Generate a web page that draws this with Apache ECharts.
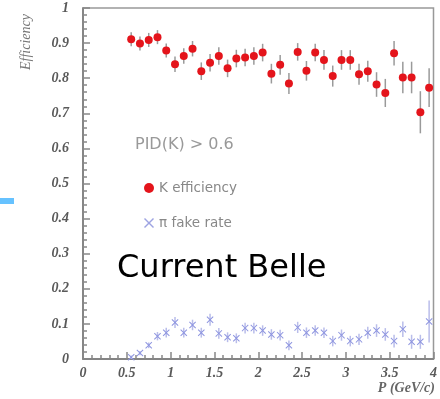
<!DOCTYPE html>
<html>
<head>
<meta charset="utf-8">
<script src="https://cdn.jsdelivr.net/npm/echarts@6/dist/echarts.min.js"></script>
<style>
  html, body { margin: 0; padding: 0; background: #fff; }
  #chart { width: 440px; height: 399px; }
</style>
</head>
<body>
<div id="chart"></div>
<script>
// momentum bin centres (GeV/c)
const pBins = [0.55, 0.65, 0.75, 0.85, 0.95, 1.05, 1.15, 1.25, 1.35, 1.45, 1.55, 1.65,
  1.75, 1.85, 1.95, 2.05, 2.15, 2.25, 2.35, 2.45, 2.55, 2.65, 2.75, 2.85, 2.95, 3.05,
  3.15, 3.25, 3.35, 3.45, 3.55, 3.65, 3.75, 3.85, 3.95];

const kEff = [0.911, 0.899, 0.909, 0.917, 0.879, 0.840, 0.863, 0.884, 0.820, 0.844, 0.863, 0.828,
  0.856, 0.859, 0.863, 0.873, 0.813, 0.838, 0.785, 0.875, 0.821, 0.873, 0.852, 0.806, 0.852, 0.852,
  0.811, 0.820, 0.782, 0.758, 0.871, 0.802, 0.802, 0.703, 0.773];
const kErr = [0.02, 0.02, 0.02, 0.02, 0.02, 0.022, 0.022, 0.022, 0.025, 0.025, 0.025, 0.025,
  0.025, 0.025, 0.025, 0.025, 0.028, 0.028, 0.03, 0.025, 0.028, 0.025, 0.028, 0.03, 0.028, 0.028,
  0.03, 0.03, 0.035, 0.04, 0.035, 0.045, 0.045, 0.06, 0.055];

const piFake = [0.005, 0.017, 0.039, 0.065, 0.075, 0.104, 0.075, 0.097, 0.075, 0.112, 0.073, 0.062,
  0.059, 0.088, 0.088, 0.081, 0.070, 0.068, 0.039, 0.090, 0.075, 0.081, 0.075, 0.051, 0.068, 0.051,
  0.056, 0.075, 0.081, 0.070, 0.051, 0.085, 0.049, 0.049, 0.107];
const piErr = [0.005, 0.006, 0.008, 0.012, 0.014, 0.016, 0.014, 0.015, 0.014, 0.017, 0.015, 0.014,
  0.014, 0.015, 0.015, 0.015, 0.015, 0.015, 0.014, 0.016, 0.015, 0.015, 0.015, 0.015, 0.016, 0.015,
  0.016, 0.017, 0.018, 0.018, 0.018, 0.022, 0.02, 0.02, 0.06];

const xTicks = ['0', '0.5', '1', '1.5', '2', '2.5', '3', '3.5', '4'];

const crossPath = 'path://M0,1L1,0L5,4L9,0L10,1L6,5L10,9L9,10L5,6L1,10L0,9L4,5Z';

let chart = echarts.init(document.getElementById('chart'));

function errorBar(color) {
  return function (params, api) {
    let x = api.value(0), y = api.value(1), e = api.value(2);
    let lo = api.coord([x, y - e]);
    let hi = api.coord([x, y + e]);
    return {
      type: 'line',
      shape: { x1: lo[0], y1: lo[1], x2: hi[0], y2: hi[1] },
      style: { stroke: color, lineWidth: 1.5 }
    };
  };
}

let tickFont = {
  fontFamily: 'Liberation Serif',
  fontStyle: 'italic',
  fontWeight: 'bold',
  fontSize: 14,
  color: '#5a5a5a'
};

// 1px grey ticks get lost in antialiasing, so a bit thicker
let tickLine = { color: '#888', width: 1.5 };

let option = {
  animation: false,
  grid: { left: 83, right: 4, top: 8, bottom: 40, show: true, borderColor: '#999', borderWidth: 1.5 },
  xAxis: {
    type: 'value', min: 0, max: 4, interval: 0.5,
    axisLine: { show: true, onZero: false, lineStyle: { color: '#777', width: 1.5 } },
    axisTick: { show: true, inside: true, length: 7, lineStyle: tickLine },
    minorTick: { show: true, splitNumber: 5, length: 4, lineStyle: tickLine },
    splitLine: { show: false },
    axisLabel: Object.assign({ margin: 7, formatter: v => xTicks[Math.round(v * 2)] }, tickFont)
  },
  yAxis: {
    type: 'value', min: 0, max: 1, interval: 0.1,
    axisLine: { show: true, onZero: false, lineStyle: { color: '#777', width: 1.5 } },
    axisTick: { show: true, inside: true, length: 7, lineStyle: tickLine },
    minorTick: { show: true, splitNumber: 5, length: 4, lineStyle: tickLine },
    splitLine: { show: false },
    axisLabel: Object.assign({ margin: 14, formatter: v => v === 0 ? '0' : v === 1 ? '1' : v.toFixed(1) }, tickFont)
  },
  legend: {
    orient: 'vertical',
    left: 139, top: 176,
    itemGap: 21,
    itemWidth: 10, itemHeight: 10,
    textStyle: { fontFamily: 'DejaVu Sans', fontSize: 13.5, color: '#888' },
    data: [
      { name: 'K efficiency', icon: 'circle', itemStyle: { color: '#e4141b' } },
      { name: 'π fake rate', icon: crossPath, itemStyle: { color: '#9da3e2' } }
    ]
  },
  graphic: [
    { type: 'text', left: 135, top: 137,
      style: { text: 'PID(K) > 0.6', font: '16px "DejaVu Sans"', fill: '#999' } },
    { type: 'text', left: 117, top: 253,
      style: { text: 'Current Belle', font: '32px "DejaVu Sans"', fill: '#000' } },
    { type: 'text', x: 19, y: 70, rotation: Math.PI / 2,
      style: { text: 'Efficiency', font: 'italic 14px "Liberation Serif"', fill: '#777' } },
    { type: 'text', right: 5, top: 381,
      style: { text: 'P (GeV/c)', font: 'italic bold 14px "Liberation Serif"', fill: '#666' } },
    { type: 'rect', shape: { x: 0, y: 198, width: 14, height: 6 }, style: { fill: '#66c2ff' } }
  ],
  series: [
    { name: 'K err', type: 'custom', renderItem: errorBar('#9a9a9a'),
      data: pBins.map((p, i) => [p, kEff[i], kErr[i]]), z: 1 },
    { name: 'K efficiency', type: 'scatter', symbol: 'circle', symbolSize: 8,
      itemStyle: { color: '#e4141b', opacity: 1 },
      data: pBins.map((p, i) => [p, kEff[i]]), z: 2 },
    { name: 'pi err', type: 'custom', renderItem: errorBar('#b9bdea'),
      data: pBins.map((p, i) => [p, piFake[i], piErr[i]]), z: 1 },
    { name: 'π fake rate', type: 'scatter', symbol: crossPath, symbolSize: 7,
      itemStyle: { color: '#8e95e0', opacity: 1 },
      data: pBins.map((p, i) => [p, piFake[i]]), z: 2 }
  ]
};

chart.setOption(option);
</script>
</body>
</html>
